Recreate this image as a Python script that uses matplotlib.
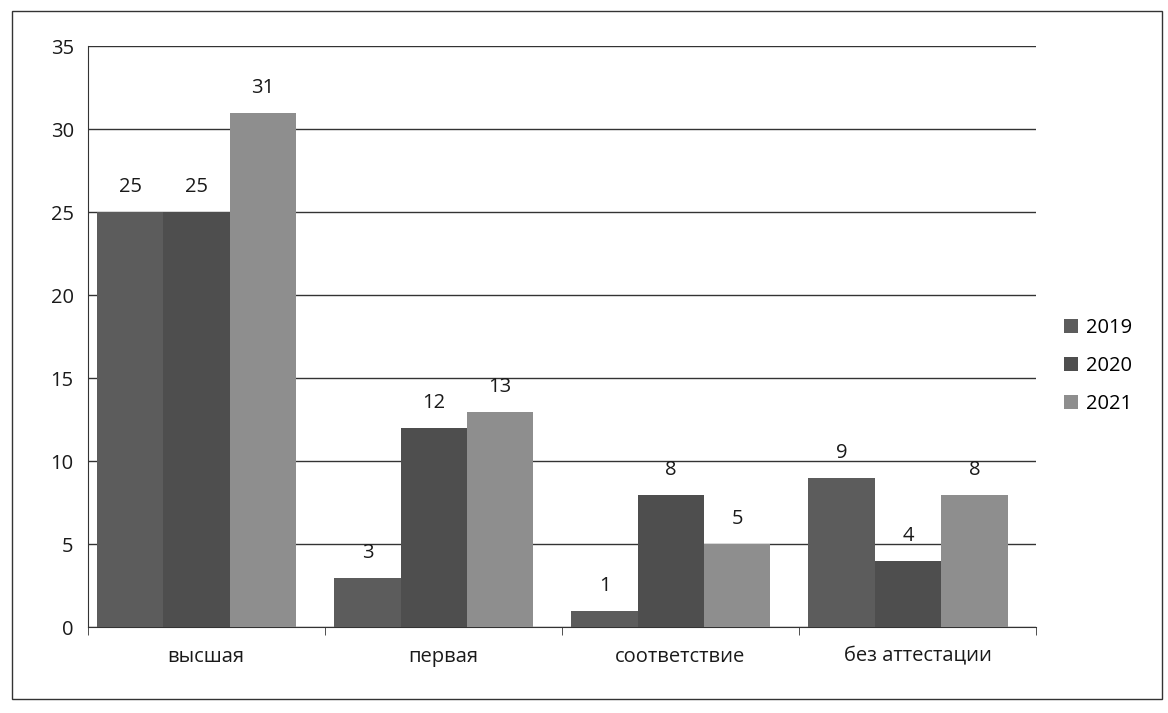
import matplotlib
matplotlib.use("Agg")
import matplotlib.pyplot as plt
import numpy as np
from matplotlib.patches import Rectangle

categories = ["высшая", "первая", "соответствие", "без аттестации"]
years = ["2019", "2020", "2021"]
v2019 = [25, 3, 1, 9]
v2020 = [25, 12, 8, 4]
v2021 = [31, 13, 5, 8]
yticks = [0, 5, 10, 15, 20, 25, 30, 35]

colors = ["#5c5c5c", "#4e4e4e", "#8e8e8e"]

plt.rcParams['font.family'] = ['Open Sans', 'DejaVu Sans']

fig = plt.figure(figsize=(11.68, 7.13), dpi=100)
ax = fig.add_axes([0.075, 0.12, 0.812, 0.815])

x = np.arange(len(categories))
w = 0.28
series = [v2019, v2020, v2021]
for i, (vals, c, lab) in enumerate(zip(series, colors, years)):
    bars = ax.bar(x + (i - 1) * w - 0.04, vals, w, color=c, label=lab, zorder=3)
    for b, v in zip(bars, vals):
        ax.text(b.get_x() + b.get_width() / 2, v + 0.9, str(v),
                ha="center", va="bottom", fontsize=14.5, color="#1a1a1a")

ax.set_xlim(-0.5, len(categories) - 0.5)
ax.set_ylim(0, 35)
ax.set_yticks(yticks)
ax.tick_params(axis='y', labelsize=14.5, length=0, pad=10, colors="#1a1a1a")
ax.set_xticks(x)
ax.set_xticklabels(categories, fontsize=14.5, color="#1a1a1a")
ax.tick_params(axis='x', length=0, pad=14)
ax.set_xticks(np.arange(-0.5, len(categories)), minor=True)
ax.tick_params(axis='x', which='minor', length=6, direction='out', color="#333333")
ax.yaxis.grid(True, color="#333333", linewidth=1.0, zorder=0)
for s in ["top", "right"]:
    ax.spines[s].set_visible(False)
ax.spines["left"].set_color("#333333")
ax.spines["bottom"].set_color("#333333")

ax.legend(loc="center left", bbox_to_anchor=(1.01, 0.45), frameon=False,
          fontsize=14.5, handlelength=0.7, handleheight=0.7, handletextpad=0.4,
          labelspacing=0.9)

fig.patches.append(Rectangle((0.01, 0.02), 0.985, 0.965, transform=fig.transFigure,
                             fill=False, edgecolor="#333333", linewidth=1.0))

fig.savefig("out.png", dpi=100)
